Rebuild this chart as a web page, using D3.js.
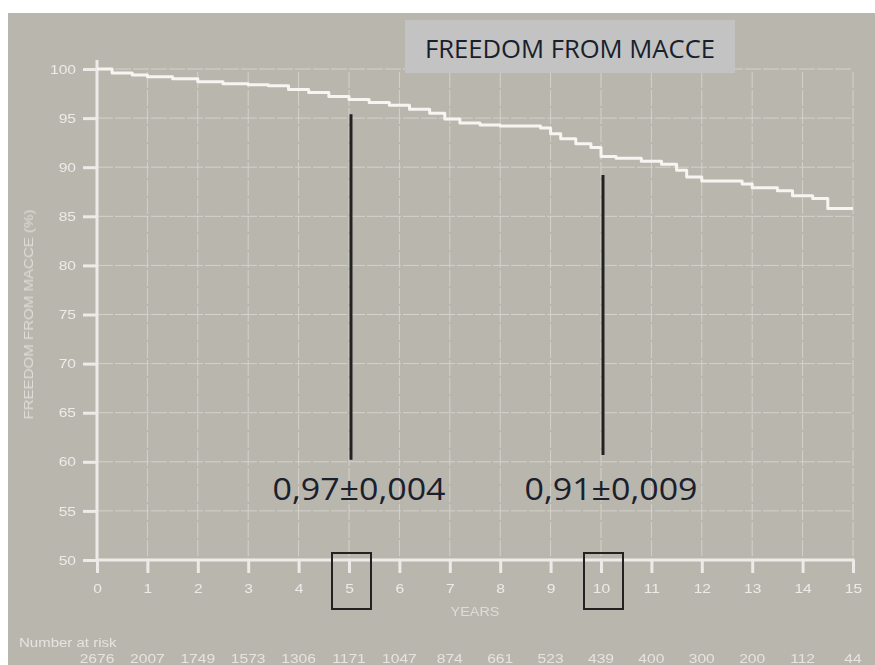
<!DOCTYPE html>
<html>
<head>
<meta charset="utf-8">
<script src="https://cdn.jsdelivr.net/npm/d3@7/dist/d3.min.js"></script>
<style>
  html, body { margin: 0; padding: 0; background: #ffffff; }
  svg { display: block; }
</style>
</head>
<body>
<svg id="chart" width="875" height="665"></svg>
<script>
// Kaplan–Meier estimate: time (years) and freedom from MACCE (%)
const kmYears = [0, 0.3, 0.7, 1.0, 1.5, 2.0, 2.5, 3.0, 3.4, 3.8, 4.2, 4.6, 5.0, 5.4, 5.8, 6.2, 6.6, 6.9, 7.2, 7.6, 8.0, 8.8, 9.0, 9.2, 9.5, 9.8, 10.0, 10.3, 10.8, 11.2, 11.5, 11.7, 12.0, 12.8, 13.0, 13.5, 13.8, 14.2, 14.5, 15.0];
const kmSurvival = [100, 99.6, 99.4, 99.2, 99.0, 98.7, 98.5, 98.4, 98.3, 97.9, 97.6, 97.2, 96.9, 96.6, 96.3, 95.9, 95.5, 94.9, 94.5, 94.3, 94.2, 94.0, 93.4, 92.9, 92.4, 92.0, 91.1, 90.9, 90.6, 90.3, 89.7, 89.0, 88.6, 88.3, 87.9, 87.6, 87.1, 86.8, 85.8, 85.8];

const xTicks = d3.range(0, 16);
const yTicks = [50, 55, 60, 65, 70, 75, 80, 85, 90, 95, 100];
const numberAtRisk = [2676, 2007, 1749, 1573, 1306, 1171, 1047, 874, 661, 523, 439, 400, 300, 200, 112, 44];

// Point estimates highlighted at 5 and 10 years
const markYears = [5, 10];
const markTops = [95.4, 89.2];
const markBottoms = [60.2, 60.7];
const markLabels = ["0,97±0,004", "0,91±0,009"];

const svg = d3.select("#chart");
const W = 875, H = 665;
const sans = "Liberation Sans, Arial, sans-serif";

// widen text horizontally by factor k
function stretch(sel, k) {
  sel.each(function () {
    const w = this.getComputedTextLength();
    d3.select(this).attr("textLength", w * k).attr("lengthAdjust", "spacingAndGlyphs");
  });
  return sel;
}

// panel background
svg.append("rect").attr("x", 8).attr("y", 13).attr("width", W - 8).attr("height", H - 13)
  .attr("fill", "#b9b6ae");

const x = d3.scaleLinear().domain([0, 15]).range([97, 853]);
const y = d3.scaleLinear().domain([50, 100]).range([560, 69]);

const light = "#ecebe7";
const gridCol = "#d4d2cb";

// grid
const grid = svg.append("g");
grid.selectAll("line.v").data(xTicks.filter(d => d > 0)).join("line")
  .attr("x1", d => x(d)).attr("x2", d => x(d))
  .attr("y1", 72).attr("y2", y(50))
  .attr("stroke", gridCol).attr("stroke-width", 1).attr("stroke-dasharray", "16,2");
grid.selectAll("line.h").data(yTicks.filter(d => d > 50)).join("line")
  .attr("x1", x(0)).attr("x2", 851)
  .attr("y1", d => y(d)).attr("y2", d => y(d))
  .attr("stroke", gridCol).attr("stroke-width", 1).attr("stroke-dasharray", "16,2");

// title box
svg.append("rect").attr("x", 405).attr("y", 20).attr("width", 330).attr("height", 53)
  .attr("fill", "#c3c3c3");
svg.append("text").attr("x", 570).attr("y", 58).attr("text-anchor", "middle")
  .attr("font-family", "Open Sans, sans-serif").attr("font-size", 25)
  .attr("fill", "#18202c").attr("textLength", 290).attr("lengthAdjust", "spacingAndGlyphs")
  .text("FREEDOM FROM MACCE");

// axes
const yAxis = d3.axisLeft(y).tickValues(yTicks).tickSize(14).tickPadding(7);
const xAxis = d3.axisBottom(x).tickValues(xTicks).tickSize(13).tickPadding(11);

const gy = svg.append("g").attr("transform", `translate(${x(0)},0)`).call(yAxis);
const gx = svg.append("g").attr("transform", `translate(0,${y(50)})`).call(xAxis);
[gy, gx].forEach(g => {
  g.select(".domain").remove();
  g.selectAll(".tick line").attr("stroke", light).attr("stroke-width", 3);
  const t = g.selectAll(".tick text").attr("fill", light)
    .attr("font-family", sans).attr("font-size", 13)
    .style("filter", "blur(0.5px)");
  stretch(t, 1.2);
});
svg.append("line").attr("x1", x(0)).attr("x2", x(0)).attr("y1", 60).attr("y2", y(50) + 2)
  .attr("stroke", light).attr("stroke-width", 3);
svg.append("line").attr("x1", x(0)).attr("x2", x(15) + 1.5).attr("y1", y(50)).attr("y2", y(50))
  .attr("stroke", light).attr("stroke-width", 3);

// axis titles
svg.append("text").attr("transform", `translate(33,${(y(50) + y(100)) / 2}) rotate(-90)`)
  .attr("text-anchor", "middle").attr("fill", "#dedcd6")
  .attr("font-family", sans).attr("font-size", 12)
  .attr("textLength", 210).attr("lengthAdjust", "spacingAndGlyphs")
  .style("filter", "blur(0.5px)")
  .text("FREEDOM FROM MACCE (%)");
stretch(svg.append("text").attr("x", (x(0) + x(15)) / 2).attr("y", 616).attr("text-anchor", "middle")
  .attr("fill", "#dedcd6").attr("font-family", sans).attr("font-size", 12)
  .style("filter", "blur(0.5px)")
  .text("YEARS"), 1.2);

// survival curve
const line = d3.line().x(d => x(d[0])).y(d => y(d[1])).curve(d3.curveStepAfter);
svg.append("path").datum(kmYears.map((t, i) => [t, kmSurvival[i]]))
  .attr("d", line).attr("fill", "none").attr("stroke", "#f6f5f2").attr("stroke-width", 3)
  .attr("stroke-linejoin", "round");

// highlight bars and labels
markYears.forEach((yr, i) => {
  svg.append("line").attr("x1", x(yr) + 2).attr("x2", x(yr) + 2)
    .attr("y1", y(markTops[i])).attr("y2", y(markBottoms[i]))
    .attr("stroke", "#222222").attr("stroke-width", 3);
  svg.append("text").attr("x", x(yr) + 10).attr("y", 500).attr("text-anchor", "middle")
    .attr("font-family", "Open Sans, sans-serif").attr("font-size", 31)
    .attr("fill", "#1a202c").attr("textLength", 173).attr("lengthAdjust", "spacingAndGlyphs")
    .text(markLabels[i]);
  // box around the tick label
  svg.append("rect").attr("x", x(yr) - 17).attr("y", 553).attr("width", 39).attr("height", 56)
    .attr("fill", "none").attr("stroke", "#222222").attr("stroke-width", 2);
});

// number at risk
stretch(svg.append("text").attr("x", 19).attr("y", 647)
  .attr("fill", "#e6e4df").attr("font-family", sans).attr("font-size", 12)
  .style("filter", "blur(0.5px)")
  .text("Number at risk"), 1.25);
stretch(svg.append("g").selectAll("text").data(numberAtRisk).join("text")
  .attr("x", (d, i) => x(xTicks[i])).attr("y", 663).attr("text-anchor", "middle")
  .attr("fill", "#e6e4df").attr("font-family", sans).attr("font-size", 12)
  .style("filter", "blur(0.5px)")
  .text(d => d), 1.3);
</script>
</body>
</html>
